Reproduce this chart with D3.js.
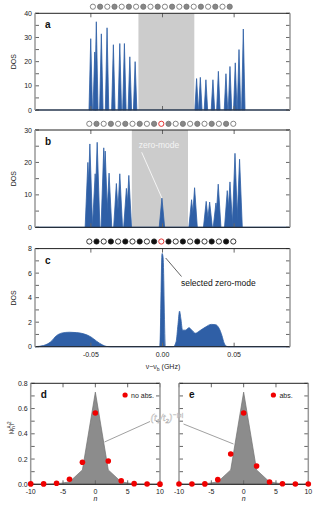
<!DOCTYPE html>
<html><head><meta charset="utf-8">
<script src="https://cdn.jsdelivr.net/npm/d3@7/dist/d3.min.js"></script>
<style>body{margin:0;background:#fff}svg{display:block;font-family:"Liberation Sans",Arial,sans-serif}</style>
</head><body><svg id="c" width="316" height="507"></svg>
<script>
// ---------- data ----------
const freqDomain = [-0.089, 0.089];
const freqTicks = [-0.05, 0, 0.05];
const freqTickLabels = ["-0.05", "0.00", "0.05"];

// panel a: peak positions (GHz), heights (DOS)
const peaksAx = [-0.0501,-0.0473,-0.0462,-0.0427,-0.0387,-0.0343,-0.0298,-0.0266,-0.0228,-0.0191,
                 0.0238,0.0264,0.0303,0.0352,0.0390,0.0443,0.0471,0.0508,0.0534,0.0564];
const peaksAy = [29.5,24,36.5,31.5,34,27,27.5,27.5,22,20,
                 13,13.5,12.5,12.5,16,15,18,19.5,25,33.5];
const bandA = [-0.0168, 0.0222];
const yTicksA = [0,10,20,30,40];

// panel b
const peaksBx = [-0.0521,-0.0507,-0.0470,-0.0456,-0.0410,-0.0400,-0.0373,-0.0322,-0.0298,-0.0252,-0.0235,
                 -0.0004,
                 0.0203,0.0224,0.0305,0.0329,0.0373,0.0389,0.0452,0.0471,0.0506,0.0538];
const peaksBy = [20,25.7,16.5,26.2,24.5,23.5,16.7,13.5,16.5,12,16,
                 9,
                 8.5,12.2,8,7.8,7.5,13.3,11.3,14,22.8,21];
const bandB = [-0.0214, 0.0178];
const yTicksB = [0,10,20,30];

// panel c: continuous DOS
const curveCx = [-0.089,-0.083,-0.078,-0.074,-0.070,-0.065,-0.060,-0.055,-0.050,-0.046,-0.042,-0.039,-0.036,
                 -0.0019,-0.0003,0.0004,0.0020,
                 0.0075,0.0095,0.0108,0.0119,0.0128,0.0140,0.0160,0.0185,0.0205,0.0230,0.0260,0.0300,0.0340,0.0370,0.0395,0.0415,0.0430,0.0445,0.0460,0.089];
const curveCy = [0.0,0.1,0.4,0.9,1.12,1.18,1.15,1.05,0.8,0.45,0.15,0.02,0,
                 0,7.6,7.3,0,
                 0,0.4,1.8,2.9,2.3,1.35,1.35,1.55,1.35,1.1,1.3,1.6,1.82,1.8,1.5,0.9,0.3,0.05,0,0];
const yTicksC = [0,2,4,6,8];

// chain site states: o = open, f = filled, r = selected (red)
const chainA = ["o","f","o","f","o","f","o","f","o","f","o","f","o","f","o","f","o","f","o","f"];
const chainB = ["o","f","o","f","o","f","o","f","o","f","r","f","o","f","o","f","o","f","o","f","o"];
const chainC = chainB;

// panels d, e
const siteN = [-10,-8,-6,-4,-2,0,2,4,6,8,10];
const ampNoAbs = [0.003,0.003,0.008,0.04,0.175,0.565,0.185,0.028,0.005,0.002,0.001];
const ampAbs   = [0.002,0.002,0.003,0.037,0.24,0.565,0.145,0.018,0.004,0.002,0.002];
const decayN = [-10,-8,-6,-4,-2,0,2,4,6,8,10];
const decayY = [0.0001,0.0005,0.003,0.019,0.114,0.73,0.114,0.019,0.003,0.0005,0.0001];
const nTicks = [-10,-5,0,5,10];
const ampTicks = [0,0.2,0.4,0.6,0.8];

// ---------- drawing ----------
const svg = d3.select("#c");
const BLUE = "#2f5fa6";
const x = d3.scaleLinear().domain(freqDomain).range([35, 290]);
const FS = 7;

function frame(g, xs, ys, opts) {
  const [x0,x1] = xs.range(), [y0,y1] = ys.range(); // y0 bottom
  const tk = g.append("g").attr("stroke","#666").attr("stroke-width",1);
  (opts.xt||[]).forEach(v=>{
    const px = xs(v);
    tk.append("line").attr("x1",px).attr("x2",px).attr("y1",y0).attr("y2",y0-4);
    tk.append("line").attr("x1",px).attr("x2",px).attr("y1",y1).attr("y2",y1+4);
  });
  (opts.yt||[]).forEach(v=>{
    const py = ys(v);
    tk.append("line").attr("x1",x0).attr("x2",x0+4).attr("y1",py).attr("y2",py);
    tk.append("line").attr("x1",x1).attr("x2",x1-4).attr("y1",py).attr("y2",py);
  });
  g.append("line").attr("x1",x0).attr("x2",x1).attr("y1",y1).attr("y2",y1).attr("stroke","#222").attr("stroke-width",1);
  g.append("line").attr("x1",x0).attr("x2",x1).attr("y1",y0).attr("y2",y0).attr("stroke","#222").attr("stroke-width",1);
  g.append("line").attr("x1",x0).attr("x2",x0).attr("y1",y0).attr("y2",y1).attr("stroke","#999").attr("stroke-width",1.5);
  g.append("line").attr("x1",x1).attr("x2",x1).attr("y1",y0).attr("y2",y1).attr("stroke","#999").attr("stroke-width",1.5);
  if (opts.yl) opts.yl.forEach((v,i)=>{
    g.append("text").attr("x",x0-3).attr("y",ys(v)+2.5).attr("text-anchor","end").attr("font-size",FS).attr("fill","#222").text(opts.ylt ? opts.ylt[i] : v);
  });
  if (opts.xl) opts.xl.forEach((v,i)=>{
    g.append("text").attr("x",xs(v)).attr("y",y0+10).attr("text-anchor","middle").attr("font-size",FS).attr("fill","#222").text(opts.xlt ? opts.xlt[i] : v);
  });
}

function minor(arr, step){ const out=[]; for(let v=arr[0]; v<=arr[arr.length-1]+1e-9; v+=step) out.push(+v.toFixed(6)); return out; }

function chain(states, cy, color, fill) {
  const n = states.length, cx0 = 161.3, sp = 7.2;
  const g = svg.append("g");
  states.forEach((s,i)=>{
    g.append("circle").attr("cx", cx0 + (i-(n-1)/2)*sp).attr("cy", cy).attr("r",2.6)
      .attr("stroke", s==="r" ? "#e02020" : color).attr("stroke-width",0.9)
      .attr("fill", s==="f" ? fill : "#fff");
  });
}

function peaksPanel(px, py, band, yMax, yTicks, yr, letter, halfW) {
  const y = d3.scaleLinear().domain([0,yMax]).range(yr);
  const g = svg.append("g");
  g.append("rect").attr("x",x(band[0])).attr("width",x(band[1])-x(band[0])).attr("y",yr[1]).attr("height",yr[0]-yr[1]).attr("fill","#cccccc");
  const area = d3.area().x(d=>x(d[0])).y0(y(0)).y1(d=>y(d[1]));
  const ln = d3.line().x(d=>x(d[0])).y(d=>y(d[1]));
  g.append("path").attr("d", ln([[freqDomain[0],0],[freqDomain[1],0]])).attr("stroke",BLUE).attr("stroke-width",1.2);
  px.forEach((p,i)=>{
    const pts = [[p-halfW,0],[p,py[i]],[p+halfW,0]];
    g.append("path").attr("d", area(pts)).attr("fill",BLUE).attr("stroke",BLUE).attr("stroke-width",0.8).attr("stroke-linejoin","round");
  });
  frame(g, x, y, {xt:freqTicks, yt:minor(yTicks, (yTicks[1]-yTicks[0])/2), yl:yTicks});
  g.append("text").attr("x",45).attr("y",yr[1]+15).attr("font-size",10).attr("font-weight","bold").attr("fill","#111").text(letter);
  g.append("text").attr("transform",`translate(16,${(yr[0]+yr[1])/2}) rotate(-90)`).attr("text-anchor","middle").attr("font-size",FS).attr("fill","#222").text("DOS");
  return y;
}

// panel a
chain(chainA, 6.7, "#777", "#888");
peaksPanel(peaksAx, peaksAy, bandA, 40, yTicksA, [110, 13.3], "a", 0.0012);

// panel b
chain(chainB, 123.8, "#777", "#888");
const yb = peaksPanel(peaksBx, peaksBy, bandB, 30, yTicksB, [227.3, 130], "b", 0.0019);
svg.append("line").attr("x1",141.7).attr("y1",152.3).attr("x2",x(peaksBx[11])).attr("y2",yb(peaksBy[11])).attr("stroke","#fff").attr("stroke-width",0.8);
svg.append("text").attr("x",159).attr("y",148).attr("text-anchor","middle").attr("font-size",8.5).attr("fill","#f4f4f4").text("zero-mode");

// panel c
chain(chainC, 241.5, "#222", "#111");
{
  const y = d3.scaleLinear().domain([0,8]).range([346.7, 248.6]);
  const g = svg.append("g");
  const pts = curveCx.map((v,i)=>[v, curveCy[i]]);
  g.append("path").attr("d", d3.area().x(d=>x(d[0])).y0(y(0)).y1(d=>y(d[1])).curve(d3.curveMonotoneX)(pts))
    .attr("fill",BLUE).attr("stroke",BLUE).attr("stroke-width",0.8);
  frame(g, x, y, {xt:freqTicks, yt:minor(yTicksC,1), yl:yTicksC, xl:freqTicks, xlt:freqTickLabels});
  g.append("text").attr("x",45).attr("y",264).attr("font-size",10).attr("font-weight","bold").attr("fill","#111").text("c");
  g.append("text").attr("transform",`translate(16,298) rotate(-90)`).attr("text-anchor","middle").attr("font-size",FS).attr("fill","#222").text("DOS");
  g.append("line").attr("x1",165.7).attr("y1",258).attr("x2",181.5).attr("y2",276.5).attr("stroke","#222").attr("stroke-width",0.7);
  g.append("text").attr("x",181).attr("y",285.5).attr("font-size",8.5).attr("fill","#111").text("selected zero-mode");
  const xl = g.append("text").attr("x",163).attr("y",369).attr("text-anchor","middle").attr("font-size",FS).attr("fill","#222");
  xl.append("tspan").text("\u03BD\u2212\u03BD");
  xl.append("tspan").attr("font-size",5).attr("dy",1.5).text("b");
  xl.append("tspan").attr("dy",-1.5).text(" (GHz)");
}

// panels d, e
function ampPanel(xr, amps, letter, legend, showY) {
  const xs = d3.scaleLinear().domain([-10,10]).range(xr);
  const ys = d3.scaleLinear().domain([0,0.8]).range([484.3, 383.3]);
  const g = svg.append("g");
  const pts = decayN.map((v,i)=>[v, decayY[i]]);
  g.append("path").attr("d", d3.area().x(d=>xs(d[0])).y0(ys(0)).y1(d=>ys(d[1]))(pts)).attr("fill","#8c8c8c").attr("stroke","#707070").attr("stroke-width",0.7);
  frame(g, xs, ys, {xt:nTicks, yt:minor(ampTicks,0.1), yl: showY ? ampTicks : null, ylt: ampTicks.map(v=>v.toFixed(1)), xl:nTicks});
  g.append("g").selectAll("circle").data(siteN).join("circle")
    .attr("cx",(d)=>xs(d)).attr("cy",(d,i)=>ys(amps[i])).attr("r",2.8).attr("fill","#f00000");
  g.append("text").attr("x",xr[0]+10).attr("y",398).attr("font-size",10).attr("font-weight","bold").attr("fill","#111").text(letter);
  const lx = xs(4.6);
  g.append("circle").attr("cx",lx).attr("cy",395).attr("r",2.6).attr("fill","#f00000");
  g.append("text").attr("x",lx+6).attr("y",397.5).attr("font-size",FS).attr("fill","#222").text(legend);
  g.append("text").attr("x",(xr[0]+xr[1])/2).attr("y",501).attr("text-anchor","middle").attr("font-size",FS).attr("font-style","italic").attr("fill","#222").text("n");
  return [xs, ys];
}
ampPanel([30.7, 160], ampNoAbs, "d", "no abs.", true);
ampPanel([179, 308.3], ampAbs, "e", "abs.", false);
{
  const yl = svg.append("text").attr("transform","translate(13,428) rotate(-90)").attr("text-anchor","middle").attr("font-size",6).attr("fill","#222");
  yl.append("tspan").text("|\u03C8");
  yl.append("tspan").attr("font-size",4.5).attr("dy",1.5).text("n");
  yl.append("tspan").attr("font-size",4.5).attr("dy",-4).attr("dx",-2.5).text("A");
  yl.append("tspan").attr("dy",2.5).text("|");
  yl.append("tspan").attr("font-size",4.5).attr("dy",-2.5).text("2");
  svg.append("line").attr("x1",150).attr("y1",421.5).attr("x2",104.5).attr("y2",442).attr("stroke","#888").attr("stroke-width",0.8);
  svg.append("line").attr("x1",183.5).attr("y1",424).attr("x2",233.5).attr("y2",444).attr("stroke","#888").attr("stroke-width",0.8);
  const t = svg.append("text").attr("x",167).attr("y",421).attr("text-anchor","middle").attr("font-size",10).attr("font-style","italic").attr("font-family","Liberation Serif, serif").attr("fill","#e8e8e8").attr("stroke","#b0b0b0").attr("stroke-width",0.35);
  t.append("tspan").text("(t");
  t.append("tspan").attr("font-size",6.5).attr("dy",2).text("1");
  t.append("tspan").attr("dy",-2).text("/t");
  t.append("tspan").attr("font-size",6.5).attr("dy",2).text("2");
  t.append("tspan").attr("dy",-2).text(")");
  t.append("tspan").attr("font-size",6.5).attr("dy",-4.5).text("\u2212|n|");
}
</script></body></html>
